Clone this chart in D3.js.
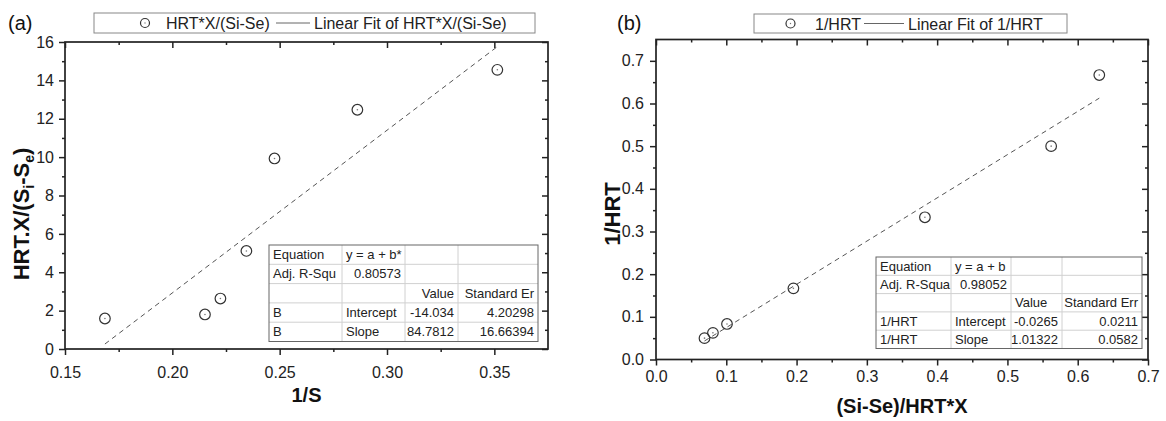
<!DOCTYPE html>
<meta charset="utf-8">
<style>
body { margin: 0; background: #fff; }
svg { font-family: "Liberation Sans", Arial, sans-serif; }
.frame { fill: none; stroke: #222; stroke-width: 1.7px; }
.axis path { display: none; }
.axis line { stroke: #222; stroke-width: 1.5px; }
.axis text { font-size: 16px; fill: #222; font-family: "Liberation Sans", Arial, sans-serif; }
.pt { fill: none; stroke: #333; stroke-width: 1.2px; }
.dot { fill: #777; }
.fit { fill: none; stroke: #555; stroke-width: 1px; stroke-dasharray: 5,4; }
.title { font-weight: bold; fill: #111; }
.leg-box { fill: #fff; stroke: #888; stroke-width: 1px; }
.leg text { font-size: 16px; fill: #222; }
.cell { font-size: 13px; fill: #222; }
</style>
<body>
<script src="https://d3js.org/d3.v7.min.js"></script>
<script>

// ---- panel (a) data ----
var aX = [0.1686, 0.2152, 0.2224, 0.2345, 0.2476, 0.2862, 0.3514];
var aY = [1.59, 1.80, 2.63, 5.11, 9.93, 12.47, 14.55];
var aFit = [-14.034, 84.7812];           // intercept, slope
var aTicksX = [0.15, 0.20, 0.25, 0.30, 0.35];
var aMinorX = [0.175, 0.225, 0.275, 0.325];
var aTicksY = [0, 2, 4, 6, 8, 10, 12, 14, 16];
var aMinorY = [1, 3, 5, 7, 9, 11, 13, 15];
var aLegend = ["HRT*X/(Si-Se)", "Linear Fit of HRT*X/(Si-Se)"];
var aTable = [
  ["Equation", "y = a + b*", "", ""],
  ["Adj. R-Squ", "0.80573", "", ""],
  ["", "", "Value", "Standard Er"],
  ["B", "Intercept", "-14.034", "4.20298"],
  ["B", "Slope", "84.7812", "16.66394"]
];

// ---- panel (b) data ----
var bX = [0.069, 0.081, 0.101, 0.1955, 0.3826, 0.5622, 0.6307];
var bY = [0.05, 0.0625, 0.0833, 0.1667, 0.3333, 0.5, 0.6667];
var bFit = [-0.0265, 1.01322];
var bTicksX = [0, 0.1, 0.2, 0.3, 0.4, 0.5, 0.6, 0.7];
var bMinorX = [0.05, 0.15, 0.25, 0.35, 0.45, 0.55, 0.65];
var bTicksY = [0, 0.1, 0.2, 0.3, 0.4, 0.5, 0.6, 0.7];
var bMinorY = [0.05, 0.15, 0.25, 0.35, 0.45, 0.55, 0.65];
var bLegend = ["1/HRT", "Linear Fit of 1/HRT"];
var bTable = [
  ["Equation", "y = a + b", "", ""],
  ["Adj. R-Squa", "0.98052", "", ""],
  ["", "", "Value", "Standard Err"],
  ["1/HRT", "Intercept", "-0.0265", "0.0211"],
  ["1/HRT", "Slope", "1.01322", "0.0582"]
];

var svg = d3.select("body").append("svg")
    .attr("width", 1166)
    .attr("height", 421);

var panels = [
  { tag: "(a)", tagX: 8,
    xs: aX, ys: aY, fit: aFit,
    x0: 65, x1: 548, y0: 42, y1: 349,
    xDom: [0.15, 0.375], yDom: [0, 16],
    xTicks: aTicksX, xMinor: aMinorX, yTicks: aTicksY, yMinor: aMinorY,
    xFmt: d3.format(".2f"), yFmt: d3.format("d"), xPad: 12, yPad: 5,
    legend: aLegend, leg: { x0: 94, x1: 535, y0: 13, y1: 33, sym: 145, t1: 166, l0: 276, l1: 310, t2: 314 },
    table: aTable, cols: [269, 342, 405, 458, 538], rowTop: 245, rowH: 19.3,
    headAlign: ["start", "start", "end", "end"],
    yTitle: "a", yTitleX: 28.5, yTitleY: 214,
    xTitle: "1/S", xTitleY: 401.5 },
  { tag: "(b)", tagX: 617,
    xs: bX, ys: bY, fit: bFit,
    x0: 656, x1: 1148, y0: 39.5, y1: 359.5,
    xDom: [0, 0.7], yDom: [0, 0.75],
    xTicks: bTicksX, xMinor: bMinorX, yTicks: bTicksY, yMinor: bMinorY,
    xFmt: d3.format(".1f"), yFmt: d3.format(".1f"), xPad: 5, yPad: 6,
    legend: bLegend, leg: { x0: 754, x1: 1067, y0: 14, y1: 33, sym: 790.5, t1: 815, l0: 864, l1: 904, t2: 908 },
    table: bTable, cols: [876, 951, 1011, 1062, 1142], rowTop: 257, rowH: 18.3,
    headAlign: ["start", "start", "start", "end"],
    yTitle: "b", yTitleX: 620, yTitleY: 214,
    xTitle: "(Si-Se)/HRT*X", xTitleY: 413 }
];

panels.forEach(drawPanel);

function drawPanel(p) {
  var g = svg.append("g");
  var x = d3.scaleLinear().domain(p.xDom).range([p.x0, p.x1]);
  var y = d3.scaleLinear().domain(p.yDom).range([p.y1, p.y0]);

  // bottom axis with labels, top copy without (ticks point down = inside)
  g.append("g").attr("class", "axis")
      .attr("transform", "translate(0," + p.y1 + ")")
      .call(d3.axisBottom(x).tickValues(p.xTicks).tickFormat(p.xFmt).tickSize(6).tickPadding(p.xPad));
  g.append("g").attr("class", "axis")
      .attr("transform", "translate(0," + p.y1 + ")")
      .call(d3.axisBottom(x).tickValues(p.xMinor).tickFormat("").tickSize(3));
  g.append("g").attr("class", "axis")
      .attr("transform", "translate(0," + p.y0 + ")")
      .call(d3.axisBottom(x).tickValues(p.xTicks).tickFormat("").tickSize(6));
  g.append("g").attr("class", "axis")
      .attr("transform", "translate(0," + p.y0 + ")")
      .call(d3.axisBottom(x).tickValues(p.xMinor).tickFormat("").tickSize(3));

  // left axis with labels, right copy without (ticks point left = inside)
  g.append("g").attr("class", "axis")
      .attr("transform", "translate(" + p.x0 + ",0)")
      .call(d3.axisLeft(y).tickValues(p.yTicks).tickFormat(p.yFmt).tickSize(6).tickPadding(p.yPad));
  g.append("g").attr("class", "axis")
      .attr("transform", "translate(" + p.x0 + ",0)")
      .call(d3.axisLeft(y).tickValues(p.yMinor).tickFormat("").tickSize(3));
  g.append("g").attr("class", "axis")
      .attr("transform", "translate(" + p.x1 + ",0)")
      .call(d3.axisLeft(y).tickValues(p.yTicks).tickFormat("").tickSize(6));
  g.append("g").attr("class", "axis")
      .attr("transform", "translate(" + p.x1 + ",0)")
      .call(d3.axisLeft(y).tickValues(p.yMinor).tickFormat("").tickSize(3));

  g.append("rect").attr("class", "frame")
      .attr("x", p.x0).attr("y", p.y0)
      .attr("width", p.x1 - p.x0).attr("height", p.y1 - p.y0);

  // fit line over the data range
  var ends = d3.extent(p.xs);
  var line = d3.line()
      .x(function(d) { return x(d); })
      .y(function(d) { return y(p.fit[0] + p.fit[1] * d); });
  g.append("path").attr("class", "fit").attr("d", line(ends));

  // table
  var tb = g.append("g");
  var top = p.rowTop, rh = p.rowH, c = p.cols;
  var bottom = top + rh * p.table.length;
  tb.append("rect").attr("x", c[0]).attr("y", top)
      .attr("width", c[4] - c[0]).attr("height", bottom - top)
      .attr("fill", "#fff");
  for (var r = 1; r < p.table.length; r++) {
    tb.append("line").attr("x1", c[0]).attr("x2", c[4])
        .attr("y1", top + rh * r).attr("y2", top + rh * r)
        .attr("stroke", "#d0d0d0");
  }
  for (var k = 1; k < 4; k++) {
    tb.append("line").attr("x1", c[k]).attr("x2", c[k])
        .attr("y1", top).attr("y2", bottom)
        .attr("stroke", "#d0d0d0");
  }
  tb.append("rect").attr("x", c[0]).attr("y", top)
      .attr("width", c[4] - c[0]).attr("height", bottom - top)
      .attr("fill", "none").attr("stroke", "#666");
  p.table.forEach(function(row, ri) {
    row.forEach(function(txt, ci) {
      if (!txt) return;
      var anchor = /^-?[\d.]+$/.test(txt) ? "end" : "start";
      if (ri === 2) anchor = p.headAlign[ci];
      tb.append("text").attr("class", "cell")
          .attr("x", anchor === "end" ? c[ci + 1] - 4 : c[ci] + 4)
          .attr("y", top + rh * ri + rh / 2 + 4.5)
          .attr("text-anchor", anchor)
          .text(txt);
    });
  });

  // points
  var pts = g.selectAll(".p").data(p.xs).enter().append("g")
      .attr("transform", function(d, i) { return "translate(" + x(d) + "," + y(p.ys[i]) + ")"; });
  pts.append("circle").attr("class", "pt").attr("r", 5.3);
  pts.append("circle").attr("class", "dot").attr("r", 0.8);

  // legend
  var L = p.leg, cy = (L.y0 + L.y1) / 2;
  var lg = g.append("g").attr("class", "leg");
  lg.append("rect").attr("class", "leg-box")
      .attr("x", L.x0).attr("y", L.y0).attr("width", L.x1 - L.x0).attr("height", L.y1 - L.y0);
  lg.append("circle").attr("class", "pt").attr("cx", L.sym).attr("cy", cy).attr("r", 4.5);
  lg.append("circle").attr("class", "dot").attr("cx", L.sym).attr("cy", cy).attr("r", 0.7);
  lg.append("text").attr("x", L.t1).attr("y", cy + 6).text(p.legend[0]);
  lg.append("line").attr("x1", L.l0).attr("x2", L.l1).attr("y1", cy).attr("y2", cy)
      .attr("stroke", "#666").attr("stroke-width", 1);
  lg.append("text").attr("x", L.t2).attr("y", cy + 6).text(p.legend[1]);

  // panel tag
  g.append("text").attr("x", p.tagX).attr("y", 30)
      .style("font-size", "20px").attr("fill", "#111").text(p.tag);

  // axis titles
  g.append("text").attr("class", "title")
      .attr("x", (p.x0 + p.x1) / 2).attr("y", p.xTitleY)
      .attr("text-anchor", "middle").style("font-size", "20px")
      .text(p.xTitle);

  var yt = g.append("text").attr("class", "title")
      .attr("transform", "translate(" + p.yTitleX + "," + p.yTitleY + ") rotate(-90)")
      .attr("text-anchor", "middle").style("font-size", "22px");
  if (p.yTitle === "a") {
    yt.append("tspan").text("HRT.X/(S");
    yt.append("tspan").attr("dy", 5).style("font-size", "14px").text("i");
    yt.append("tspan").attr("dy", -5).text("-S");
    yt.append("tspan").attr("dy", 5).style("font-size", "14px").text("e");
    yt.append("tspan").attr("dy", -5).text(")");
  } else {
    yt.text("1/HRT");
  }
}

</script>
</body>
